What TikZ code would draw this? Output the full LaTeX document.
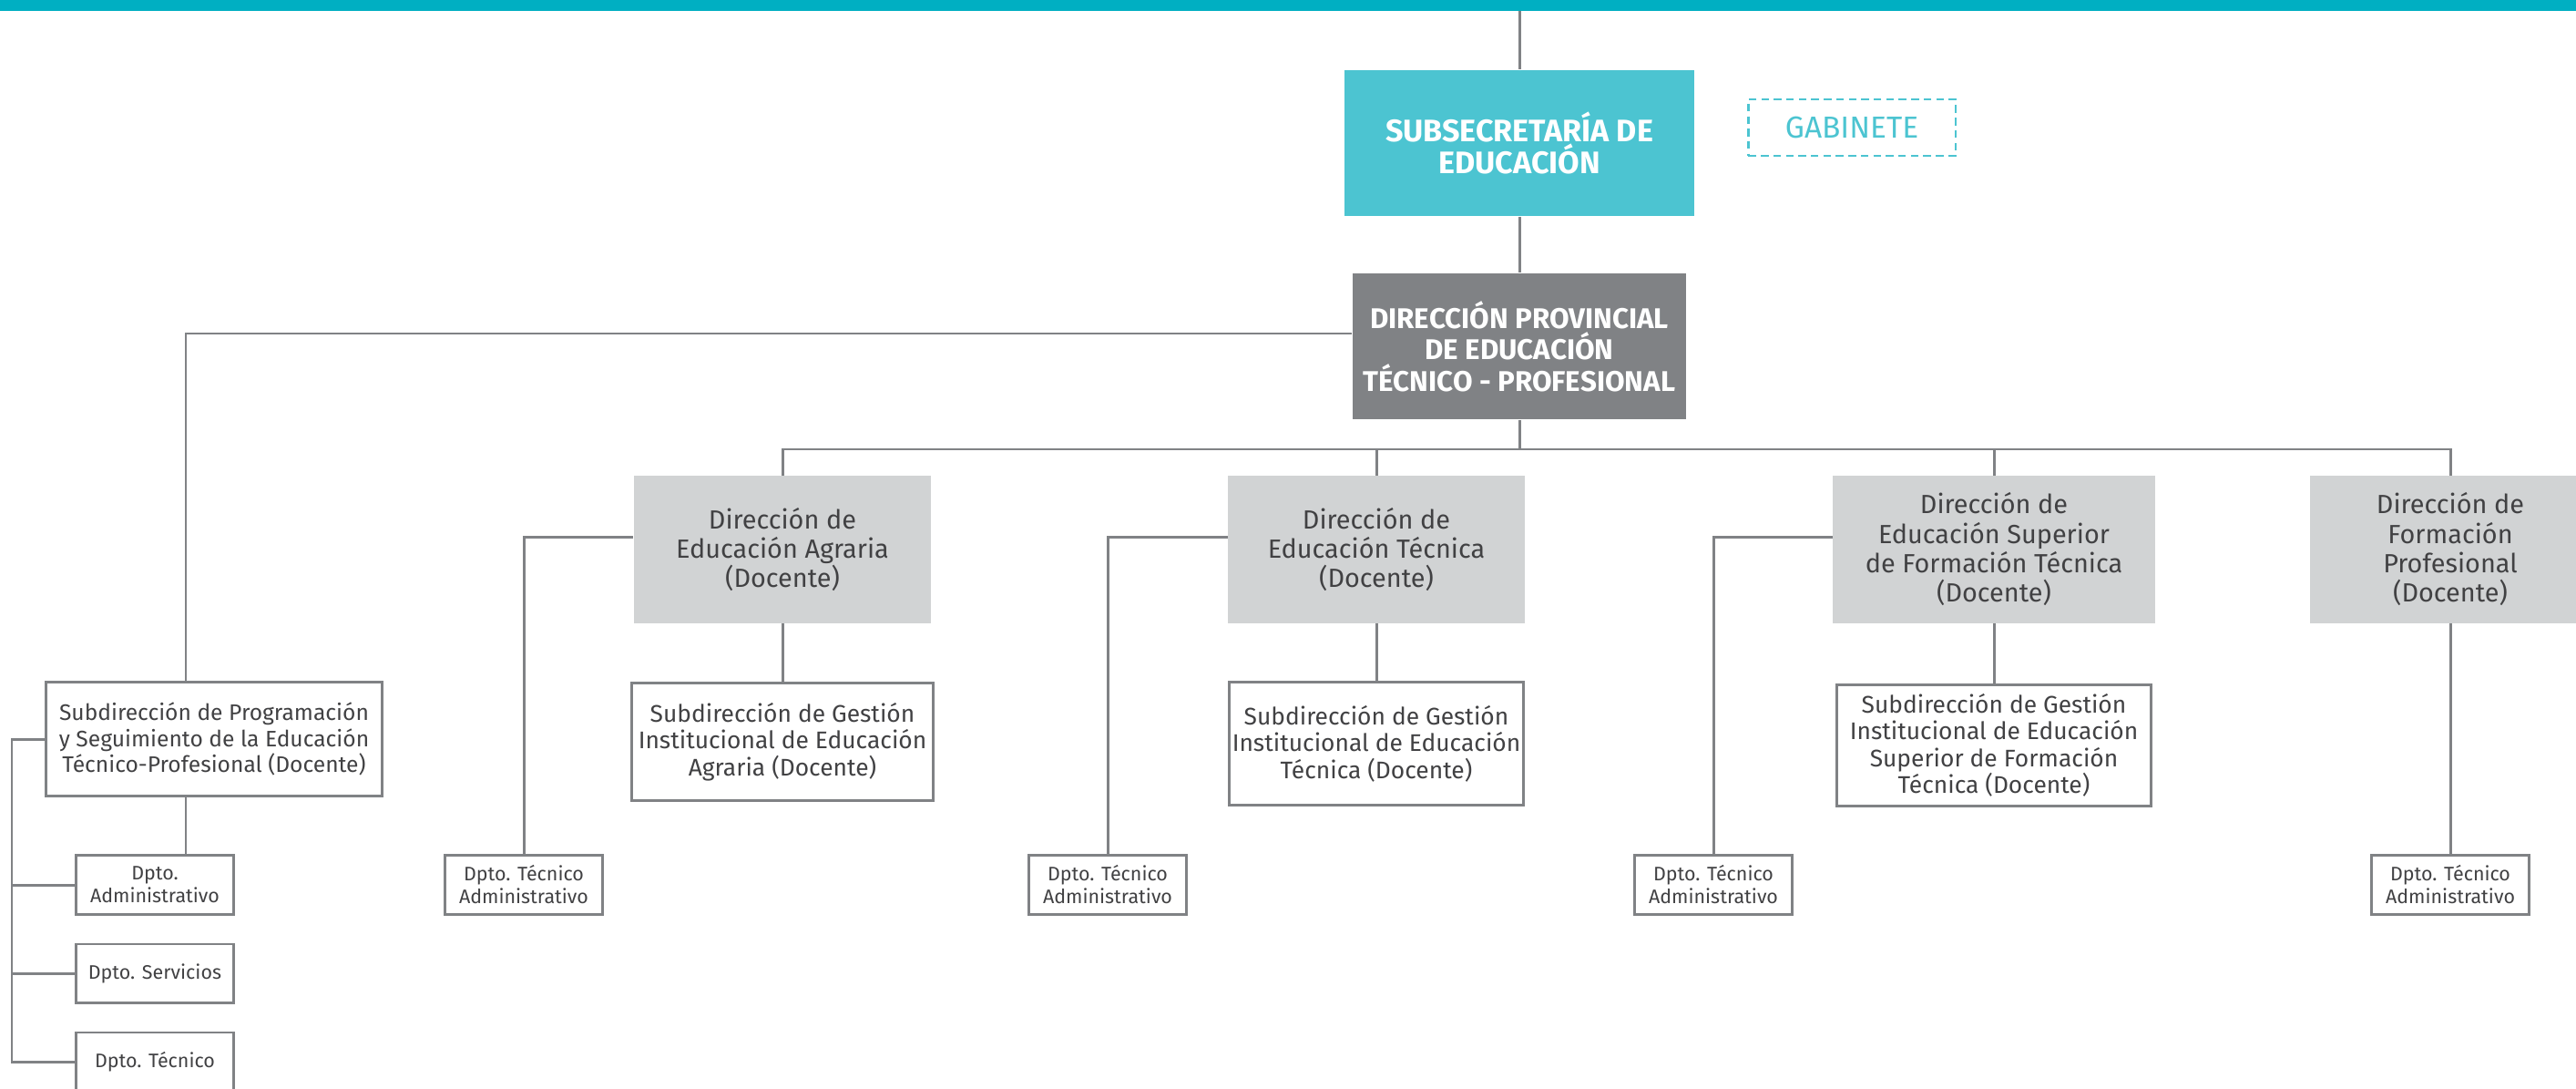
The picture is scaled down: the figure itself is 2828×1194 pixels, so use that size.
\documentclass[tikz,border=0pt]{standalone}
\usepackage{fontspec}
\setmainfont{Fira Sans}
\usetikzlibrary{positioning}
\definecolor{barteal}{HTML}{00AFC2}
\definecolor{boxteal}{HTML}{4CC4D1}
\definecolor{provgray}{HTML}{808285}
\definecolor{dirgray}{HTML}{D1D3D4}
\definecolor{linegray}{HTML}{808285}
\definecolor{txtgray}{HTML}{414143}

\begin{document}
\begin{tikzpicture}[x=0.01cm, y=-0.01cm,
    every node/.style={inner sep=0pt, align=center, text=txtgray},
    line/.style={draw=linegray, line width=0.85pt},
    topbox/.style={fill=boxteal, text=white, font=\fontsize{9.7}{10}\selectfont\bfseries},
    provbox/.style={fill=provgray, text=white, font=\fontsize{8.9}{9.8}\selectfont\bfseries},
    dirbox/.style={fill=dirgray, minimum height=1.61cm, font=\fontsize{8.2}{9.2}\selectfont},
    subbox/.style={draw=linegray, line width=0.85pt, font=\fontsize{7.5}{8.4}\selectfont},
    dptobox/.style={draw=linegray, line width=0.85pt, minimum width=1.73cm, minimum height=0.64cm, font=\fontsize{6.1}{7.1}\selectfont}]
        \useasboundingbox (0,0) rectangle (2828,1194);
        \fill[barteal] (0,0) rectangle (2828,12);

        % Nodes
        \node (subsec) [topbox, minimum width=3.83cm, minimum height=1.6cm] at (1668,157) {SUBSECRETARÍA DE\\EDUCACIÓN};
        \node (gab) [draw=boxteal, line width=0.6pt, dash pattern=on 2.4pt off 1.5pt, text=boxteal, minimum width=2.27cm, minimum height=0.62cm, font=\fontsize{9.5}{10}\selectfont] at (2033,140) {GABINETE};
        \node (dirprov) [provbox, minimum width=3.66cm, minimum height=1.6cm] at (1668,380) {DIRECCIÓN PROVINCIAL\\DE EDUCACIÓN\\TÉCNICO - PROFESIONAL};

        \node (agr) [dirbox, minimum width=3.26cm] at (859,603) {Dirección de\\Educación Agraria\\(Docente)};
        \node (tec) [dirbox, minimum width=3.25cm] at (1511,603) {Dirección de\\Educación Técnica\\(Docente)};
        \node (sup) [dirbox, minimum width=3.53cm] at (2189,603) {Dirección de\\Educación Superior\\de Formación Técnica\\(Docente)};
        \node (fp) [dirbox, minimum width=3.08cm] at (2690,603) {Dirección de\\Formación\\Profesional\\(Docente)};

        \node (sagr) [subbox, minimum width=3.31cm, minimum height=1.28cm] at (859,814) {Subdirección de Gestión\\Institucional de Educación\\Agraria (Docente)};
        \node (stec) [subbox, minimum width=3.23cm, minimum height=1.35cm] at (1511,816) {Subdirección de Gestión\\Institucional de Educación\\Técnica (Docente)};
        \node (ssup) [subbox, minimum width=3.45cm, minimum height=1.32cm] at (2189,818) {Subdirección de Gestión\\Institucional de Educación\\Superior de Formación\\Técnica (Docente)};

        \node (a1) [dptobox] at (575,971) {Dpto. Técnico\\Administrativo};
        \node (a2) [dptobox] at (1216,971) {Dpto. Técnico\\Administrativo};
        \node (a3) [dptobox] at (1881,971) {Dpto. Técnico\\Administrativo};
        \node (a4) [dptobox] at (2690,971) {Dpto. Técnico\\Administrativo};

        \node (sprog) [subbox, minimum width=3.69cm, minimum height=1.25cm, font=\fontsize{7}{8}\selectfont] at (235,811) {Subdirección de Programación\\y Seguimiento de la Educación\\Técnico-Profesional (Docente)};
        \node (da) [dptobox] at (170,971) {Dpto.\\Administrativo};
        \node (ds) [dptobox] at (170,1068) {Dpto. Servicios};
        \node (dt) [dptobox] at (170,1165) {Dpto. Técnico};

        \coordinate (bar) at (1668,12);
        \coordinate (bus) at (1668,493);
        \coordinate (lft) at (0,366);
        \coordinate (lvl) at (0,589);
        \coordinate (px) at (204,0);
        \coordinate (brk) at (13,0);

        % Lines
        \draw[line] (bar) -- (subsec.north);
        \draw[line] (subsec) -- (dirprov);
        \draw[line] (dirprov.south) -- (bus);
        \draw[line] (agr.north) |- (bus) -| (fp.north);
        \draw[line] (tec.north) -- (tec.north |- bus);
        \draw[line] (sup.north) -- (sup.north |- bus);

        \draw[line] (agr) -- (sagr);
        \draw[line] (tec) -- (stec);
        \draw[line] (sup) -- (ssup);
        \draw[line] (fp) -- (a4);

        \draw[line] (agr.west |- lvl) -| (a1.north);
        \draw[line] (tec.west |- lvl) -| (a2.north);
        \draw[line] (sup.west |- lvl) -| (a3.north);

        \draw[line] (dirprov.west |- lft) -| (px |- sprog.north);
        \draw[line] (px |- sprog.south) -- (px |- da.north);
        \draw[line] (sprog.west) -| (brk |- dt.west) -- (dt.west);
        \draw[line] (brk |- da.west) -- (da.west);
        \draw[line] (brk |- ds.west) -- (ds.west);
    \end{tikzpicture}
\end{document}
